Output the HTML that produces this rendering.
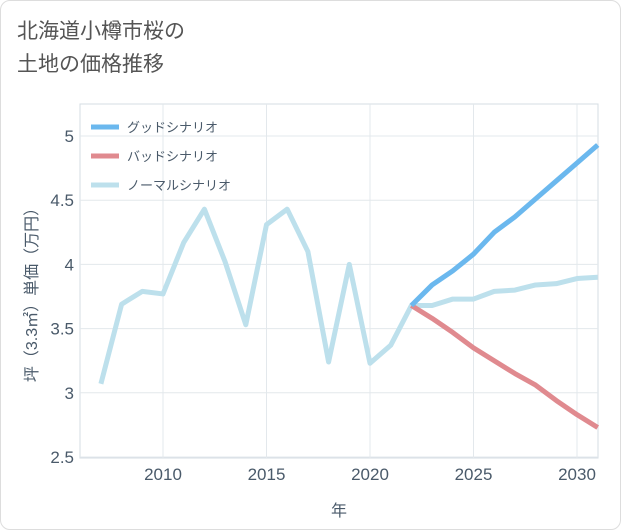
<!DOCTYPE html>
<html><head><meta charset="utf-8"><style>
body{margin:0;background:#fff;font-family:"Liberation Sans","Noto Sans CJK JP",sans-serif;}
#wrap{position:relative;width:619px;height:528px;border:1px solid #ddd;border-radius:10px;background:#fff;overflow:hidden;}
#title{position:absolute;left:16px;top:14px;font-size:21px;line-height:33px;color:#555;}
svg{position:absolute;left:0;top:0;}
</style></head><body>
<div id="wrap">
<div id="title">北海道小樽市桜の<br>土地の価格推移</div>
<svg id="chart" width="621" height="530"></svg>
</div>
<script>
const years=[2007,2008,2009,2010,2011,2012,2013,2014,2015,2016,2017,2018,2019,2020,2021,2022,2023,2024,2025,2026,2027,2028,2029,2030,2031];
const normalVals=[3.07,3.69,3.79,3.77,4.17,4.43,4.02,3.53,4.31,4.43,4.1,3.24,4.0,3.23,3.37,3.68,3.68,3.73,3.73,3.79,3.80,3.84,3.85,3.89,3.9];
const futureYears=[2022,2023,2024,2025,2026,2027,2028,2029,2030,2031];
const goodVals=[3.68,3.84,3.95,4.08,4.25,4.37,4.51,4.65,4.79,4.93];
const badVals=[3.68,3.58,3.47,3.35,3.25,3.15,3.06,2.94,2.83,2.73];
const yTicks=[2.5,3,3.5,4,4.5,5];
const xTicks=[2010,2015,2020,2025,2030];
const legendLabels=["グッドシナリオ","バッドシナリオ","ノーマルシナリオ"];
const colors=["#6bb8ee","#e08a8f","#bde0ec"];
const L=79,R=597,T=103,B=457;
const x=v=>162+(v-2010)*(576-162)/20;
const y=v=>456-(v-2.5)*(456-135)/2.5;
const svg=document.getElementById('chart');
const NS='http://www.w3.org/2000/svg';
function mk(t,a){const e=document.createElementNS(NS,t);for(const k in a)e.setAttribute(k,a[k]);svg.appendChild(e);return e;}
let e=mk('rect',{x:L,y:T,width:R-L,height:B-T,fill:'none',stroke:'#d5dde3'});


yTicks.forEach(t=>{
 let g=mk('line',{x1:L,x2:R,y1:y(t),y2:y(t),stroke:'#e3e8ec'});
 
 
 let tx=mk('text',{x:L-6,y:y(t)+6,'text-anchor':'end','font-size':17,fill:'#4a5a6a'});
 tx.textContent=t;
 
 
});
xTicks.forEach(t=>{
 let g=mk('line',{x1:x(t),x2:x(t),y1:T,y2:B,stroke:'#e3e8ec'});
 
 
 let tx=mk('text',{x:x(t),y:B+22,'text-anchor':'middle','font-size':17,fill:'#4a5a6a'});
 tx.textContent=t;
 
 
});
let xt=mk('text',{x:338,y:515,'text-anchor':'middle','font-size':16,fill:'#4a5a6a'});
xt.textContent='年';


let yt=mk('text',{x:0,y:0,'text-anchor':'middle','font-size':16,fill:'#4a5a6a',transform:'translate(36,290) rotate(-90)'});
yt.textContent='坪（3.3㎡）単価（万円）';


function line(xs,vs,c,name){
 let p=mk('polyline',{points:xs.map((d,i)=>x(d)+','+y(vs[i])).join(' '),fill:'none',stroke:c,'stroke-width':5,'stroke-linejoin':'round'});
 
 
}
line(years,normalVals,colors[2],'normal-scenario-line');
line(futureYears,badVals,colors[1],'bad-scenario-line');
line(futureYears,goodVals,colors[0],'good-scenario-line');
legendLabels.forEach((l,i)=>{
 let ly=126+i*29;
 let s=mk('line',{x1:90,x2:118,y1:ly,y2:ly,stroke:colors[i],'stroke-width':5});
 
 
 let t=mk('text',{x:126,y:ly+5,'font-size':13,fill:'#4a5a6a'});
 t.textContent=l;
 
 
});
</script>
</body></html>
